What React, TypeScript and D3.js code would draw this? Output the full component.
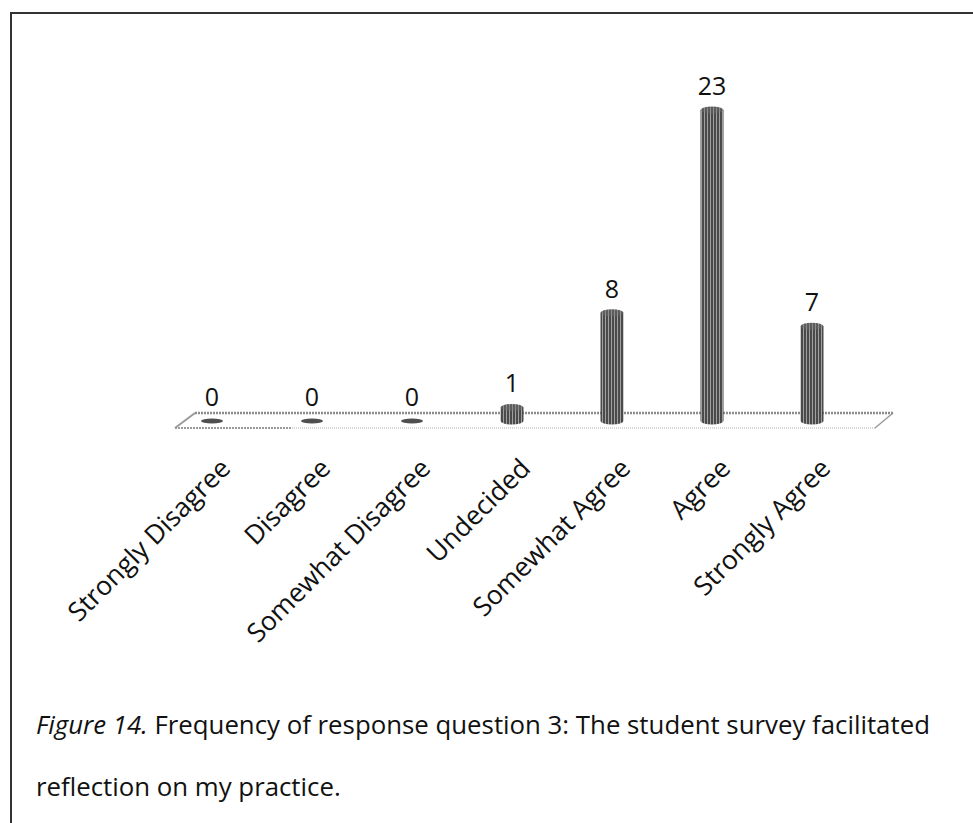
import * as d3 from 'd3'

const categories = [
  'Strongly Disagree',
  'Disagree',
  'Somewhat Disagree',
  'Undecided',
  'Somewhat Agree',
  'Agree',
  'Strongly Agree',
]
const counts = [0, 0, 0, 1, 8, 23, 7]

const captionItalic = 'Figure 14.'
const captionLine1 = ' Frequency of response question 3: The student survey facilitated'
const captionLine2 = 'reflection on my practice.'

const W = 973
const H = 823
const FONT = '"Open Sans", "Noto Sans", sans-serif'

export default function App() {
  const x = d3.scalePoint<string>().domain(categories).range([162, 862]).padding(0.5)
  const y = d3.scaleLinear().domain([0, 23]).range([421, 110])

  const barW = 23
  const ry = 3.5
  const base = y(0)

  // floor parallelogram (3-D platform the cylinders stand on)
  const [r0, r1] = x.range()
  const backY = base - 8
  const frontY = base + 7
  const floorBack: [number, number][] = [[r0 + 33, backY], [r1 + 31, backY]]
  const floorFront: [number, number][] = [[r0 + 13, frontY], [r1 + 13, frontY]]
  const line = d3.line()

  return (
    <svg width={W} height={H} style={{ position: 'absolute', left: 0, top: 0, background: '#fff' }}>
      <defs>
        <pattern id="stripes" width="3" height="4" patternUnits="userSpaceOnUse">
          <rect width="3" height="4" fill="#4a4a4a" />
          <rect x="2" width="1" height="4" fill="#a0a0a0" />
        </pattern>
        <pattern id="stripesTop" width="3" height="4" patternUnits="userSpaceOnUse">
          <rect width="3" height="4" fill="#5c5c5c" />
          <rect x="2" width="1" height="4" fill="#8c8c8c" />
        </pattern>
      </defs>

      <rect x={11} y={13} width={1000} height={1000} fill="none" stroke="#333" strokeWidth={2} />

      {/* floor */}
      <path
        d={line([floorFront[0], floorBack[0]]) ?? ''}
        stroke="#9a9a9a" strokeWidth={2} fill="none"
      />
      <path
        d={line([floorFront[1], floorBack[1]]) ?? ''}
        stroke="#9a9a9a" strokeWidth={1.5} fill="none"
      />
      <path
        d={line(floorBack) ?? ''}
        stroke="#8c8c8c" strokeWidth={2.5} strokeDasharray="2 1" fill="none"
      />
      <path
        d={line([floorFront[0], [r0 + 130, frontY]]) ?? ''}
        stroke="#9a9a9a" strokeWidth={2} strokeDasharray="2 1" fill="none"
      />
      <path
        d={line([[r0 + 130, frontY], floorFront[1]]) ?? ''}
        stroke="#c8c8c8" strokeWidth={1.5} strokeDasharray="1 1" fill="none"
      />

      {/* cylinders */}
      {categories.map((c, i) => {
        const cx = x(c) ?? 0
        const v = counts[i]
        const top = y(v)
        const x0 = cx - barW / 2
        const x1 = cx + barW / 2
        if (v === 0) {
          return (
            <ellipse key={c} cx={cx} cy={base} rx={11} ry={2.5} fill="#4f4f4f" />
          )
        }
        const body = `M${x0},${top} L${x0},${base} A${barW / 2},${ry} 0 0 0 ${x1},${base} L${x1},${top} Z`
        return (
          <g key={c}>
            <path d={body} fill="url(#stripes)" />
            <ellipse cx={cx} cy={top} rx={barW / 2} ry={ry} fill="url(#stripesTop)" />
          </g>
        )
      })}

      {/* value labels */}
      {categories.map((c, i) => (
        <text
          key={c}
          x={x(c)}
          y={y(counts[i]) - 15}
          textAnchor="middle"
          fontFamily={FONT}
          fontSize={25}
          fill="#111"
        >
          {counts[i]}
        </text>
      ))}

      {/* category labels */}
      {categories.map(c => {
        const px = (x(c) ?? 0) + 20
        const py = 470
        return (
          <text
            key={c}
            x={px}
            y={py}
            textAnchor="end"
            transform={`rotate(-45 ${px} ${py})`}
            fontFamily={FONT}
            fontSize={26.5}
            fill="#111"
          >
            {c}
          </text>
        )
      })}

      {/* caption */}
      <text x={36} y={734} fontFamily={FONT} fontSize={25.8} fill="#111">
        <tspan fontStyle="italic">{captionItalic}</tspan>
        <tspan>{captionLine1}</tspan>
      </text>
      <text x={36} y={796} fontFamily={FONT} fontSize={25.8} fill="#111">
        {captionLine2}
      </text>
    </svg>
  )
}
